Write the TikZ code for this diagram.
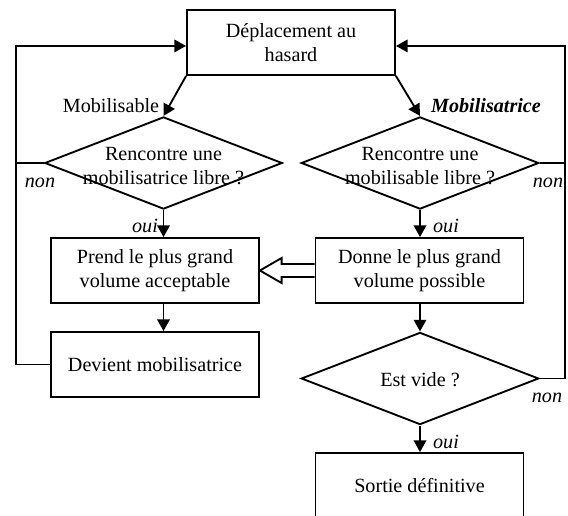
\documentclass[tikz,border=0pt]{standalone}
\usepackage{fontspec}
\setmainfont{Liberation Serif}
\usetikzlibrary{arrows.meta,shapes.geometric,calc}
\begin{document}
\begin{tikzpicture}[x=0.64pt,y=-0.64pt,
  line width=1.2pt,
  every node/.style={font=\fontsize{12.9}{15.5}\selectfont},
  box/.style={draw,rectangle,minimum width=133.1pt,minimum height=41.6pt,align=center,inner sep=0pt},
  dec/.style={draw,diamond,minimum width=152pt,minimum height=59pt,inner sep=0pt},
  dectext/.style={align=center,inner sep=0pt},
  lab/.style={font=\fontsize{12.9}{15.5}\selectfont\itshape},
  flow/.style={-{Triangle[length=7.5pt,width=8pt]}},
]
\useasboundingbox (0,0) rectangle (568,515);
\clip (0,0) rectangle (568,515);

\node[box] (top) at (291,42.5) {Déplacement au\\hasard};
\node[dec] (d1) at (163.5,163) {};
\node[dectext] (d1t) at (163.5,166) {Rencontre une\\mobilisatrice libre ?};
\node[dec] (d2) at (420,163) {};
\node[dectext] (d2t) at (420,166) {Rencontre une\\mobilisable libre ?};
\node[box] (prd) at (155,270.5) {Prend le plus grand\\volume acceptable};
\node[box] (don) at (419.5,270.5) {Donne le plus grand\\volume possible};
\node[box] (dev) at (155,364.5) {Devient mobilisatrice};
\node[dec] (ev) at (420,378.5) {};
\node[dectext] (evt) at (420,380) {Est vide ?};
\node[box] (out) at (419.5,485.5) {Sortie définitive};

\node (mb) at (111,106) {Mobilisable};
\node[font=\fontsize{12.9}{15.5}\selectfont\bfseries\itshape] (mt) at (486,106) {Mobilisatrice};
\node[lab] (n1) at (40,183) {non};
\node[lab] (o1) at (145,226) {oui};
\node[lab] (n2) at (548,183) {non};
\node[lab] (o2) at (446,226) {oui};
\node[lab] (n3) at (547,398) {non};
\node[lab] (o3) at (446,442) {oui};

\coordinate (lx) at (16,0);
\coordinate (rx) at (565,0);

% loops
\draw[flow] (dev.west) -- (dev.west -| lx) -- ([yshift=-2.2pt]top.west -| lx) -- ([yshift=-2.2pt]top.west);
\draw (d1.west) -- (d1.west -| lx);
\draw[flow] (ev.east) -- (ev.east -| rx) -- ([yshift=-2.2pt]top.east -| rx) -- ([yshift=-2.2pt]top.east);
\draw (d2.east) -- (d2.east -| rx);

% main flow
\draw[flow] (top.south west) -- (d1.north);
\draw[flow] (top.south east) -- (d2.north);
\draw[flow] (d1.south) -- (d1.south |- prd.north);
\draw[flow] (d1.south |- prd.south) -- (d1.south |- dev.north);
\draw[flow] (d2.south) -- (d2.south |- don.north);
\draw[flow] (d2.south |- don.south) -- (ev.north);
\draw[flow] (ev.south) -- (ev.south |- out.north);

% hollow arrow
\draw[fill=white,line join=miter] ($(don.west)+(0,-6.5)$) -- ++(-33,0) -- ++(0,-6) -- (prd.east) -- ($(don.west)+(-33,12.5)$) -- ++(0,-6) -- ($(don.west)+(0,6.5)$);
\end{tikzpicture}
\end{document}
